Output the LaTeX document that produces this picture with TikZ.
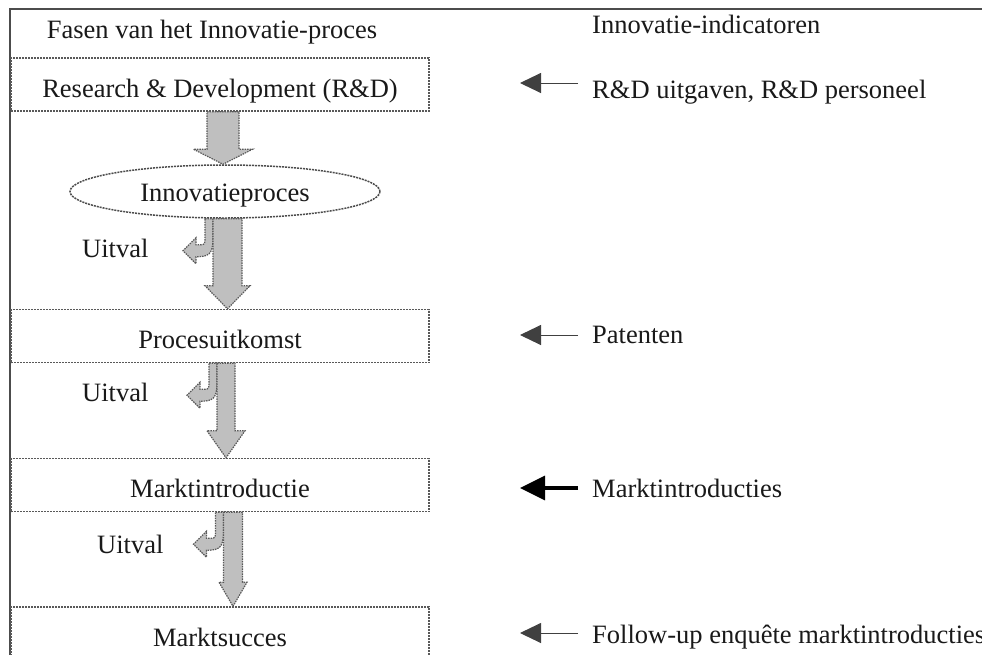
\documentclass[tikz,border=0pt]{standalone}
\usepackage{fontspec}
\setmainfont{Liberation Serif}
\usetikzlibrary{arrows.meta,shapes.geometric,calc}

\tikzset{
  frameline/.style={draw=black!70, line width=1.8pt},
  phasebox/.style={rectangle, draw=black!65, line width=1.5pt,
    dash pattern=on 2pt off 1pt, fill=white,
    minimum width=418pt, minimum height=53pt, inner sep=0pt,
    text height=25pt, text depth=0pt},
  phaseoval/.style={ellipse, draw=black!70, line width=1.5pt,
    dash pattern=on 2pt off 1pt, fill=white,
    minimum width=310pt, minimum height=53pt, inner sep=0pt,
    text height=19pt, text depth=0pt},
  txt/.style={inner sep=0pt},
  flow/.style={fill=black!25, draw=black!65, line width=1.2pt,
    dash pattern=on 1.5pt off 1pt},
  pointer/.style={draw=black!75, line width=1pt,
    -{Triangle[length=21pt,width=20pt]}},
  boldpointer/.style={draw=black, line width=3.5pt,
    -{Triangle[length=25pt,width=24pt]}},
  uitval/.pic={
    \path[flow] (-8,0) -- (0,0) -- (0,20)
      .. controls (0,36) and (-5,38) .. (-17,38)
      -- (-17,45) -- (-30,32) -- (-17,19) -- (-17,26) -- (-12,26)
      .. controls (-8,26) and (-8,24) .. (-8,20) -- cycle;
  }
}

% block arrow between two anchors: start, end, x centre, shaft half width,
% head half width, head length
\newcommand\flowarrow[6]{%
  \path[flow] let \p1=(#1), \p2=(#2) in
    (#3-#4,\y1) -- (#3+#4,\y1) -- (#3+#4,\y2+#6) -- (#3+#5,\y2+#6)
    -- (#3,\y2) -- (#3-#5,\y2+#6) -- (#3-#4,\y2+#6) -- cycle;}

\begin{document}
\begin{tikzpicture}[x=1pt, y=-1pt,
  font=\fontsize{26.5pt}{32pt}\selectfont, text=black!90]
\useasboundingbox (0,0) rectangle (982,654);
\clip (0,0) rectangle (982,654);
\fill[white] (0,0) rectangle (982,654);

% outer frame
\draw[frameline] (10,680) -- (10,9) -- (1000,9);

% column headings
\node[txt, anchor=base] (fasen) at (212,38) {Fasen van het Innovatie-proces};
\node[txt, anchor=base west] (indic) at (592,33) {Innovatie-indicatoren};

% phases
\node[phasebox] (rd) at (220,84.5) {Research \& Development (R\&D)};
\node[phaseoval] (inn) at (225,191.5) {Innovatieproces};
\node[phasebox] (proc) at (220,336) {Procesuitkomst};
\node[phasebox] (markt) at (220,485) {Marktintroductie};
\node[phasebox] (succ) at (220,633.5) {Marktsucces};

% drop-out branches
\pic at ([xshift=-12pt]inn.south) {uitval};
\pic at ([xshift=-3pt]proc.south) {uitval};
\pic at ([xshift=3.5pt]markt.south) {uitval};

% main flow
\flowarrow{rd.south}{inn.north}{223}{16}{29.5}{15}
\flowarrow{inn.south}{proc.north}{227.5}{14.5}{22.5}{23}
\flowarrow{proc.south}{markt.north}{226}{9}{19}{27}
\flowarrow{markt.south}{succ.north}{233}{9.5}{14}{24}

\node[txt, anchor=base west] (u1) at (82,257) {Uitval};
\node[txt, anchor=base west] (u2) at (82,401) {Uitval};
\node[txt, anchor=base west] (u3) at (97,553) {Uitval};

% indicators
\node[txt, anchor=base west] (i1) at (592,98) {R\&D uitgaven, R\&D personeel};
\node[txt, anchor=base west] (i2) at (592,343) {Patenten};
\node[txt, anchor=base west] (i3) at (592,497) {Marktintroducties};
\node[txt, anchor=base west] (i4) at (592,643) {Follow-up enquête marktintroducties};

\coordinate (p1s) at (578,83);  \coordinate (p1e) at (520,83);
\coordinate (p2s) at (578,335); \coordinate (p2e) at (520,335);
\coordinate (p3s) at (578,488); \coordinate (p3e) at (520,488);
\coordinate (p4s) at (578,633); \coordinate (p4e) at (520,633);
\draw[pointer] (p1s) -- (p1e);
\draw[pointer] (p2s) -- (p2e);
\draw[boldpointer] (p3s) -- (p3e);
\draw[pointer] (p4s) -- (p4e);
\end{tikzpicture}
\end{document}
